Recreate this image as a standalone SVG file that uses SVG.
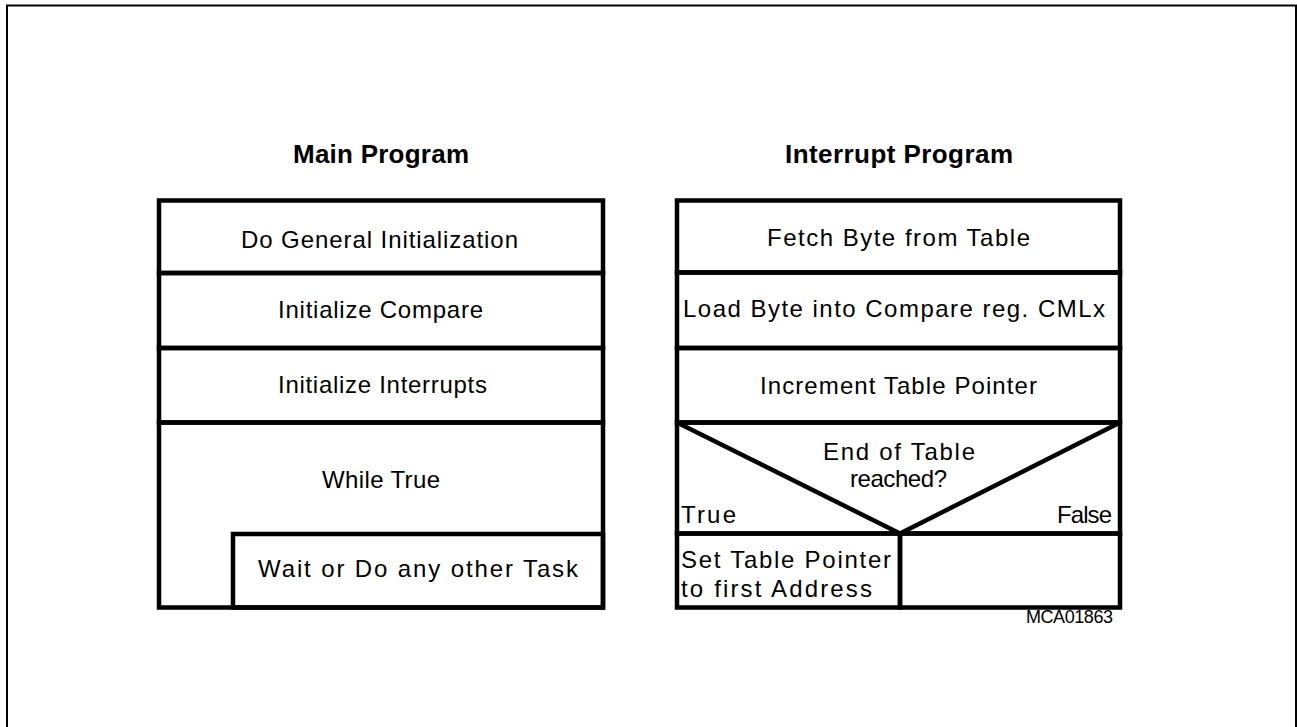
<svg xmlns="http://www.w3.org/2000/svg" width="1297" height="727" viewBox="0 0 1297 727">
<style>
.frame{fill:none;stroke:#000;stroke-width:2}
.box{fill:none;stroke:#000;stroke-width:4.5;stroke-linecap:square}
.ln{fill:none;stroke:#000;stroke-width:4.5;stroke-linecap:butt}
.t{font-family:"Liberation Sans",Arial,sans-serif;font-size:24px;fill:#000}
.h{font-family:"Liberation Sans",Arial,sans-serif;font-size:26px;font-weight:bold;fill:#000}
.s{font-family:"Liberation Sans",Arial,sans-serif;font-size:18px;fill:#000}
</style>
<rect width="1297" height="727" fill="#fff"/>
<path class="frame" d="M7,727 V5.5 H1296 V727"/>

<g id="main-program">
  <text class="h" x="293" y="163" textLength="176">Main Program</text>
  <g id="m-init">
    <rect class="box" x="159" y="200.5" width="444" height="72.5"/>
    <text class="t" x="241" y="248" textLength="277">Do General Initialization</text>
  </g>
  <g id="m-compare">
    <rect class="box" x="159" y="273" width="444" height="75"/>
    <text class="t" x="278" y="318" textLength="205">Initialize Compare</text>
  </g>
  <g id="m-interrupts">
    <rect class="box" x="159" y="348" width="444" height="74.5"/>
    <text class="t" x="278" y="393" textLength="209">Initialize Interrupts</text>
  </g>
  <g id="m-while">
    <rect class="box" x="159" y="422.5" width="444" height="185"/>
    <text class="t" x="322" y="488" textLength="118">While True</text>
  </g>
  <g id="m-wait">
    <rect class="box" x="233" y="534" width="370" height="73.5"/>
    <text class="t" x="258" y="577" textLength="320">Wait or Do any other Task</text>
  </g>
</g>

<g id="interrupt-program">
  <text class="h" x="785" y="163" textLength="228">Interrupt Program</text>
  <g id="i-fetch">
    <rect class="box" x="677" y="200.5" width="443" height="72"/>
    <text class="t" x="767" y="246" textLength="263">Fetch Byte from Table</text>
  </g>
  <g id="i-load">
    <rect class="box" x="677" y="272.5" width="443" height="75.5"/>
    <text class="t" x="683" y="317" textLength="422">Load Byte into Compare reg. CMLx</text>
  </g>
  <g id="i-increment">
    <rect class="box" x="677" y="348" width="443" height="74.5"/>
    <text class="t" x="760" y="394" textLength="277">Increment Table Pointer</text>
  </g>
  <g id="i-decision">
    <rect class="box" x="677" y="422.5" width="443" height="111"/>
    <text class="t" x="823" y="460" textLength="152">End of Table</text>
    <text class="t" x="850" y="487" textLength="97">reached?</text>
    <text class="t" x="681" y="523" textLength="55">True</text>
    <text class="t" x="1057" y="523" textLength="55">False</text>
  </g>
  <g id="i-settable">
    <rect class="box" x="677" y="533.5" width="223" height="74"/>
    <text class="t" x="681" y="568" textLength="210">Set Table Pointer</text>
    <text class="t" x="681" y="597" textLength="191">to first Address</text>
  </g>
  <g id="i-empty">
    <rect class="box" x="900" y="533.5" width="220" height="74"/>
  </g>
  <text class="s" x="1026" y="623" textLength="87">MCA01863</text>
</g>

<g id="connectors">
  <path class="ln" d="M677,422.5 L900,533.5 L1120,422.5"/>
</g>
</svg>
